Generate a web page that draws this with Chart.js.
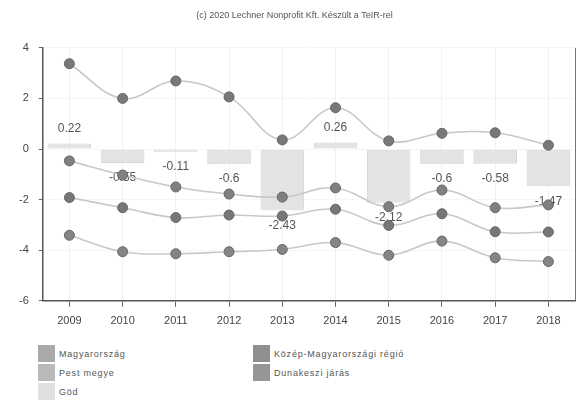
<!DOCTYPE html>
<html>
<head>
<meta charset="utf-8">
<script src="https://cdn.jsdelivr.net/npm/chart.js@4.4.1/dist/chart.umd.min.js"></script>
<style>
  body{margin:0;background:#fff;font-family:"Liberation Sans",Arial,sans-serif}
  #wrap{position:relative;width:581px;height:404px}
  #box{position:absolute;left:0;top:0;width:581px;height:340px}
  #legend{position:absolute;left:38px;top:345px;width:520px}
  .item{position:absolute;height:18px;font-size:9px;color:#555;letter-spacing:0.8px;line-height:18px;white-space:nowrap}
  .item span{display:inline-block;width:17px;height:17px;vertical-align:top;margin-right:4px}
</style>
</head>
<body>
<div id="wrap">
  <div id="box"><canvas id="chart"></canvas></div>
  <div id="legend"></div>
</div>
<script>
// adatok
const years = ['2009','2010','2011','2012','2013','2014','2015','2016','2017','2018'];
const magyarorszag = [-3.41,-4.06,-4.14,-4.06,-3.97,-3.7,-4.2,-3.64,-4.3,-4.45];
const kozepMagyar = [-1.92,-2.32,-2.71,-2.61,-2.65,-2.38,-3.02,-2.56,-3.27,-3.28];
const pestMegye = [-0.47,-1.03,-1.5,-1.78,-1.9,-1.54,-2.28,-1.62,-2.32,-2.21];
const dunakeszi = [3.37,2.0,2.69,2.06,0.36,1.63,0.32,0.62,0.64,0.15];
const god = [0.22,-0.55,-0.11,-0.6,-2.43,0.26,-2.12,-0.6,-0.58,-1.47];

const legendItems = [
  {label:'Magyarország', color:'#a9a9a9', col:0, row:0},
  {label:'Közép-Magyarországi régió', color:'#8f8f8f', col:1, row:0},
  {label:'Pest megye', color:'#b9b9b9', col:0, row:1},
  {label:'Dunakeszi járás', color:'#969696', col:1, row:1},
  {label:'Göd', color:'#e0e0e0', col:0, row:2}
];

function $(id){return document.getElementById(id)}

function lineSet(label, data, point){
  return {type:'line',label,data,borderColor:'#c8c8c8',borderWidth:1.6,tension:0.4,
    pointRadius:5,pointHoverRadius:5,pointBackgroundColor:point,pointBorderColor:'#666',pointBorderWidth:1,order:1};
}

// felirat a Göd oszlopok végénél, a vonalak alatt
const barLabels = {
  id:'barLabels',
  afterDatasetDraw(chart,args){
    if(args.index!==4) return;
    const ctx = chart.ctx;
    ctx.save();
    ctx.font = '12px "Liberation Sans", Arial, sans-serif';
    ctx.fillStyle = '#555';
    ctx.textAlign = 'center';
    ctx.textBaseline = 'middle';
    args.meta.data.forEach((bar,i)=>{
      const v = god[i];
      ctx.fillText(String(v), bar.x, v>=0 ? bar.y-15 : bar.y+15);
    });
    ctx.restore();
  }
};

const rightEdge = {
  id:'rightEdge',
  afterDraw(chart){
    const a = chart.chartArea, ctx = chart.ctx;
    ctx.save();
    ctx.strokeStyle = '#777';
    ctx.lineWidth = 1;
    ctx.beginPath();
    ctx.moveTo(a.right+0.5, a.top);
    ctx.lineTo(a.right+0.5, a.bottom);
    ctx.stroke();
    ctx.restore();
  }
};

new Chart($('chart').getContext('2d'),{
  data:{
    labels:years,
    datasets:[
      lineSet('Magyarország', magyarorszag, '#858585'),
      lineSet('Közép-Magyarországi régió', kozepMagyar, '#777'),
      lineSet('Pest megye', pestMegye, '#808080'),
      lineSet('Dunakeszi járás', dunakeszi, '#787878'),
      {type:'bar',label:'Göd',data:god,backgroundColor:'#e3e3e3',borderColor:'#d6d6d6',borderWidth:1,
        barPercentage:0.82,categoryPercentage:1,order:10}
    ]
  },
  options:{
    responsive:true,maintainAspectRatio:false,animation:false,
    layout:{padding:{left:9,right:1,top:0,bottom:4}},
    plugins:{
      legend:{display:false},
      tooltip:{enabled:false},
      title:{display:true,text:'(c) 2020 Lechner Nonprofit Kft. Készült a TeIR-rel',
        color:'#555',font:{size:9,family:'"Liberation Sans", Arial, sans-serif',weight:'normal'},
        padding:{top:10,bottom:27}}
    },
    scales:{
      x:{
        offset:true,
        grid:{offset:false,color:'rgba(0,0,0,0.05)',tickColor:'#666',tickLength:6},
        border:{display:true,color:'#555',width:1.5},
        ticks:{color:'#444',font:{size:11,family:'"Liberation Sans", Arial, sans-serif'},padding:8}
      },
      y:{
        min:-6,max:4,
        ticks:{stepSize:2,color:'#444',font:{size:11,family:'"Liberation Sans", Arial, sans-serif'},padding:10},
        grid:{color:'rgba(0,0,0,0.035)',tickColor:'#666',tickLength:4},
        border:{display:true,color:'#555',width:1.5}
      }
    }
  },
  plugins:[barLabels,rightEdge]
});

// jelmagyarázat két oszlopban
const legend = $('legend');
legendItems.forEach(it=>{
  const el = document.createElement('div');
  el.className = 'item';
  el.style.left = (it.col*215)+'px';
  el.style.top = (it.row*19)+'px';
  const sw = document.createElement('span');
  sw.style.background = it.color;
  el.appendChild(sw);
  el.appendChild(document.createTextNode(it.label));
  legend.appendChild(el);
});
</script>
</body>
</html>
